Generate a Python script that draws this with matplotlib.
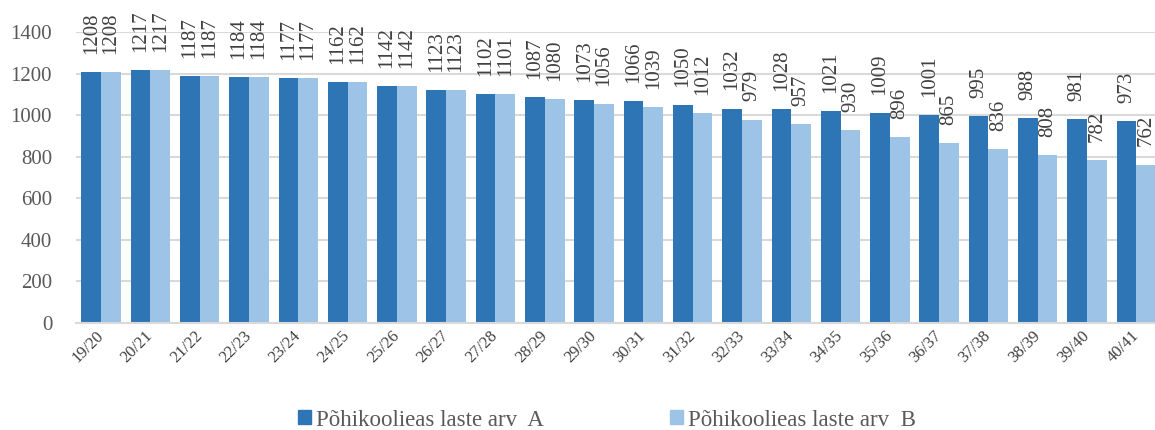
import matplotlib
matplotlib.use("Agg")
import matplotlib.pyplot as plt
from matplotlib.patches import Patch
import numpy as np

years = ["19/20", "20/21", "21/22", "22/23", "23/24", "24/25", "25/26", "26/27",
         "27/28", "28/29", "29/30", "30/31", "31/32", "32/33", "33/34", "34/35",
         "35/36", "36/37", "37/38", "38/39", "39/40", "40/41"]
series_a = [1208, 1217, 1187, 1184, 1177, 1162, 1142, 1123, 1102, 1087, 1073,
            1066, 1050, 1032, 1028, 1021, 1009, 1001, 995, 988, 981, 973]
series_b = [1208, 1217, 1187, 1184, 1177, 1162, 1142, 1123, 1101, 1080, 1056,
            1039, 1012, 979, 957, 930, 896, 865, 836, 808, 782, 762]
label_a = "Põhikoolieas laste arv  A"
label_b = "Põhikoolieas laste arv  B"

col_a = "#2E75B6"
col_b = "#9DC3E6"
txt = "#595959"

plt.rcParams["font.family"] = ["Liberation Serif", "DejaVu Serif"]

fig = plt.figure(figsize=(11.55, 4.3), dpi=100)
ax = fig.add_axes([0.0662, 0.25, 0.939, 0.675])

x = np.arange(len(years))
w = 0.4
bars_a = ax.bar(x - w / 2, series_a, w, color=col_a, zorder=2)
bars_b = ax.bar(x + w / 2, series_b, w, color=col_b, zorder=2)

for bars, vals in ((bars_a, series_a), (bars_b, series_b)):
    for b, v in zip(bars, vals):
        ax.annotate(str(v), (b.get_x() + b.get_width() / 2, v),
                    xytext=(0, 13), textcoords="offset points",
                    rotation=90, ha="center", va="bottom",
                    fontsize=15, color="#404040", annotation_clip=False)

ax.set_xlim(-0.5, len(years) - 0.5)
ax.set_ylim(0, 1400)
ax.set_yticks(range(0, 1401, 200))
ax.yaxis.grid(True, color="#D9D9D9", linewidth=1.5, zorder=0)
ax.set_axisbelow(True)
for s in ("top", "right", "left"):
    ax.spines[s].set_visible(False)
ax.spines["bottom"].set_color("#D9D9D9")
ax.spines["bottom"].set_linewidth(1.5)

ax.tick_params(axis="y", length=0, pad=17.5, labelsize=15, labelcolor=txt)
ax.tick_params(axis="x", length=0, pad=8, labelsize=12, labelcolor="#404040")
ax.set_xticks(x)
ax.set_xticklabels(years, rotation=45, ha="right", va="center",
                   rotation_mode="anchor")

handles = [Patch(color=col_a, label=label_a), Patch(color=col_b, label=label_b)]
fig.legend(handles=handles, ncol=2, loc="center",
           bbox_to_anchor=(607 / 1155, 1 - 420 / 430), frameon=False,
           fontsize=16.5, labelcolor=txt, handlelength=0.57, handleheight=0.57,
           handletextpad=0.22, columnspacing=5.5, borderpad=0)

fig.savefig("out.png", dpi=100)
